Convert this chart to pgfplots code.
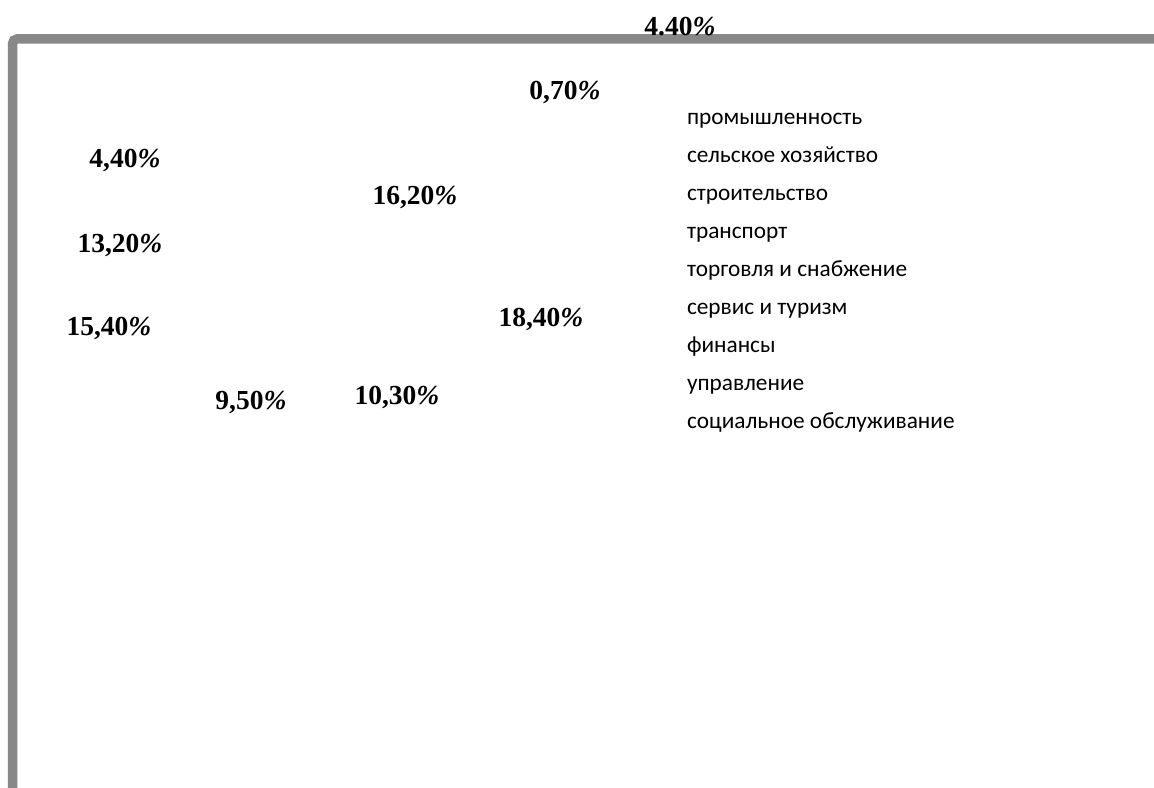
\documentclass[border=0pt]{standalone}
\usepackage{pgfplots}
\pgfplotsset{compat=1.18}
\usepackage{fontspec}
\setmainfont{Liberation Serif}
\newfontfamily\carlito{Carlito}
\definecolor{framegray}{HTML}{888888}
\begin{document}
\begin{tikzpicture}
\begin{axis}[
  scale only axis, width=1154bp, height=787bp,
  xmin=0, xmax=1154, ymin=0, ymax=787, y dir=reverse, hide axis,
  clip=true,
  legend style={at={(axis cs:687,108.5)}, anchor=north west, draw=none, fill=none,
    inner sep=0pt, outer sep=0pt, row sep=17bp,
    font=\carlito\fontsize{23.3bp}{27bp}\selectfont,
    nodes={inner sep=0pt, outer sep=0pt, text height=16bp, text depth=5bp, anchor=west},
    /tikz/every even column/.style={column sep=0pt}},
  legend cell align=left,
]
% percentage labels (value at label position)
\addplot[forget plot, only marks, mark=none, point meta=explicit,
  nodes near coords={\pgfmathprintnumber[fixed,fixed zerofill,precision=2,use comma,assume math mode=true]{\pgfplotspointmeta}\textit{\%}},
  every node near coord/.append style={anchor=center, inner sep=0pt, font=\bfseries\fontsize{27.5bp}{31bp}\selectfont}]
  coordinates {
  (565,92) [0.7]
  (125,160) [4.4]
  (415,197) [16.2]
  (120,245) [13.2]
  (541,319) [18.4]
  (109,328) [15.4]
  (251,402) [9.5]
  (397,397) [10.3]
  };
\addplot[forget plot, only marks, mark=none, point meta=explicit,
  nodes near coords={\pgfmathprintnumber[fixed,fixed zerofill,precision=2,assume math mode=true]{\pgfplotspointmeta}\textit{\%}},
  every node near coord/.append style={anchor=center, inner sep=0pt, font=\bfseries\fontsize{27.5bp}{31bp}\selectfont}]
  coordinates {(680,27) [4.4]};
% frame
\addplot[forget plot, framegray, line width=9.5bp, rounded corners=5bp, mark=none]
  coordinates {(12.5,820) (12.5,38.8) (1190,38.8)};
\addlegendimage{empty legend}\addlegendentry{промышленность}
\addlegendimage{empty legend}\addlegendentry{сельское хозяйство}
\addlegendimage{empty legend}\addlegendentry{строительство}
\addlegendimage{empty legend}\addlegendentry{транспорт}
\addlegendimage{empty legend}\addlegendentry{торговля и снабжение}
\addlegendimage{empty legend}\addlegendentry{сервис и туризм}
\addlegendimage{empty legend}\addlegendentry{финансы}
\addlegendimage{empty legend}\addlegendentry{управление}
\addlegendimage{empty legend}\addlegendentry{социальное обслуживание}
\end{axis}
\pgfresetboundingbox
\path[use as bounding box] (current axis.south west) rectangle (current axis.north east);
\end{tikzpicture}
\end{document}
